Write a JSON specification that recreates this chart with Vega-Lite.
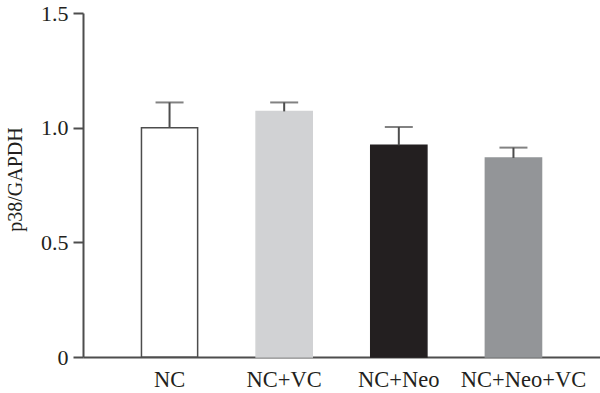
{
  "$schema": "https://vega.github.io/schema/vega-lite/v6.json",
  "autosize": "none",
  "width": 517,
  "height": 344,
  "padding": {"left": 83, "top": 13, "right": 0, "bottom": 36},
  "background": "white",
  "config": {
    "view": {"stroke": null}
  },
  "data": {"values": [
    {"group": "NC", "value": 1.0, "upper": 1.11},
    {"group": "NC+VC", "value": 1.071, "upper": 1.11},
    {"group": "NC+Neo", "value": 0.923, "upper": 1.003},
    {"group": "NC+Neo+VC", "value": 0.868, "upper": 0.913}
  ]},
  "encoding": {
    "x": {"field": "group", "type": "nominal", "sort": null,
      "scale": {"paddingInner": 0.51, "paddingOuter": 0.51},
      "axis": {"title": null, "labelAngle": 0, "ticks": false, "labelPadding": 11, "grid": false,
        "labelOffset": {"condition": {"test": "datum.label == 'NC+Neo+VC'", "value": 10}, "value": 0},
        "domainColor": "#4d4d4d", "domainWidth": 2, "labelColor": "#231f20", "labelFont": "Liberation Serif", "labelFontSize": 22.5}}
  },
  "layer": [
    {
      "mark": {"type": "bar", "strokeWidth": 1.5},
      "encoding": {
        "y": {"field": "value", "type": "quantitative",
          "scale": {"domain": [0, 1.5], "nice": false},
          "axis": {"title": "p38/GAPDH", "values": [0, 0.5, 1.0, 1.5], "tickSize": 10, "labelPadding": 5, "titlePadding": 15, "titleY": 166, "grid": false,
            "domainColor": "#4d4d4d", "domainWidth": 2, "tickColor": "#4d4d4d", "tickWidth": 2,
            "labelColor": "#231f20", "titleColor": "#231f20", "labelFont": "Liberation Serif", "titleFont": "Liberation Serif",
            "labelFontSize": 22, "titleFontSize": 20, "titleFontWeight": "normal",
            "labelExpr": "datum.value == 0 ? '0' : format(datum.value, '.1f')"}},
        "fill": {"field": "group", "type": "nominal", "legend": null,
          "scale": {"domain": ["NC", "NC+VC", "NC+Neo", "NC+Neo+VC"], "range": ["#ffffff", "#d1d2d4", "#231f20", "#939598"]}},
        "stroke": {"field": "group", "type": "nominal", "legend": null,
          "scale": {"domain": ["NC", "NC+VC", "NC+Neo", "NC+Neo+VC"], "range": ["#4d4d4d", "#d1d2d4", "#231f20", "#939598"]}}
      }
    },
    {
      "mark": {"type": "rule", "color": "#4d4d4d", "strokeWidth": 2},
      "encoding": {
        "y": {"field": "value", "type": "quantitative", "scale": {"domain": [0, 1.5], "nice": false}},
        "y2": {"field": "upper"}
      }
    },
    {
      "mark": {"type": "tick", "color": "#4d4d4d", "thickness": 2, "size": 28, "orient": "horizontal"},
      "encoding": {
        "y": {"field": "upper", "type": "quantitative", "scale": {"domain": [0, 1.5], "nice": false}}
      }
    }
  ]
}
